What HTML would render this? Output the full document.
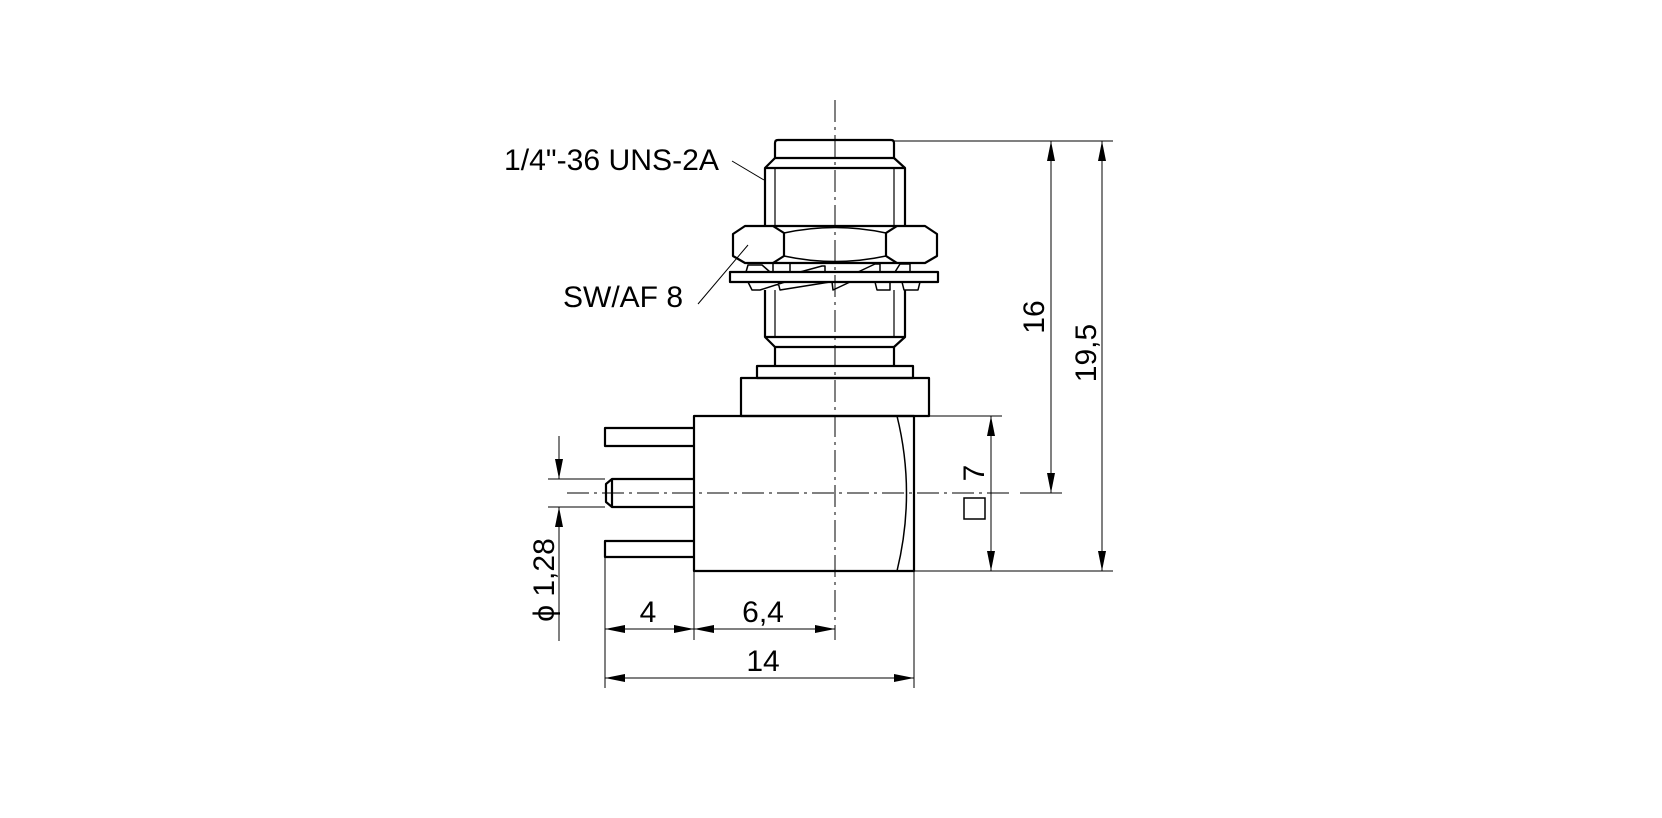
<!DOCTYPE html>
<html><head><meta charset="utf-8"><style>
html,body{margin:0;padding:0;background:#fff;}
svg{display:block;}
text{font-family:"Liberation Sans",Arial,sans-serif;fill:#000;}
</style></head><body>
<svg width="1662" height="818" viewBox="0 0 1662 818" xmlns="http://www.w3.org/2000/svg">
<defs>
<marker id="a" markerWidth="20" markerHeight="8" refX="20" refY="4" orient="auto" markerUnits="userSpaceOnUse"><path d="M0,0 L20,4 L0,8 z" fill="#000"/></marker>
</defs>
<g fill="none" stroke="#000" stroke-width="2.2" stroke-linejoin="round">
<path d="M775,158 L775,143 Q775,140 778,140 L891,140 Q894,140 894,143 L894,158"/>
<line x1="775" y1="158" x2="894" y2="158"/>
<path d="M775,158 L765,168 L765,226 M894,158 L905,168 L905,226"/>
<line x1="765" y1="168" x2="905" y2="168"/>
<line x1="775" y1="168" x2="775" y2="226" stroke-width="1.2"/>
<line x1="894" y1="168" x2="894" y2="226" stroke-width="1.2"/>
<path d="M745,226 L925,226 L937,234 L937,256 L925,263 L745,263 L733,256 L733,234 Z"/>
<path d="M773,226 L784,233 L784,256 L773,263 M897,226 L886,233 L886,256 L897,263"/>
<path d="M784,233 Q835,222 886,233 M784,256 Q835,267 886,256" stroke-width="1.5"/>
<rect x="730" y="272" width="208" height="10"/>
<g stroke-width="1.5">
<path d="M746,272 L748,265 L762,265 L770,272 M773,272 L773,263 L790,263 L790,272 M800,272 L822,266 L825,266 L825,272 M858,272 L875,264 L880,264 L880,272 M895,272 L900,264 L910,264 L910,272"/>
<path d="M748,282 L752,290 L760,290 L785,282 M778,282 L780,290 L830,282 M832,282 L833,290 L850,282 M875,282 L877,290 L890,290 L890,282 M902,282 L904,290 L918,290 L920,282"/>
</g>
<path d="M765,290 L765,337 L775,347 L894,347 L905,337 L905,290"/>
<line x1="765" y1="337" x2="905" y2="337"/>
<line x1="775" y1="290" x2="775" y2="337" stroke-width="1.2"/>
<line x1="894" y1="290" x2="894" y2="337" stroke-width="1.2"/>
<path d="M775,347 L775,366 M894,347 L894,366"/>
<rect x="757" y="366" width="156" height="12"/>
<rect x="741" y="378" width="188" height="38"/>
<rect x="694" y="416" width="220" height="155"/>
<path d="M897,416 Q916,493 897,571" stroke-width="1.5"/>
<path d="M694,428 L605,428 L605,446 L694,446"/>
<path d="M694,479 L612,479 L606,484 L606,502 L612,507 L694,507 M612,479 L612,507"/>
<path d="M694,541 L605,541 L605,557 L694,557"/>
</g>
<g stroke="#000" stroke-width="1" stroke-dasharray="22,5,3,5" fill="none">
<line x1="835" y1="100" x2="835" y2="640"/>
<line x1="567" y1="493" x2="1010" y2="493"/>
</g>
<g stroke="#000" stroke-width="1" fill="none">
<line x1="894" y1="141" x2="1113" y2="141"/>
<line x1="914" y1="571" x2="1113" y2="571"/>
<line x1="914" y1="416" x2="1002" y2="416"/>
<line x1="1020" y1="493" x2="1062" y2="493"/>
<line x1="548" y1="479" x2="605" y2="479"/>
<line x1="548" y1="507" x2="605" y2="507"/>
<line x1="605" y1="557" x2="605" y2="688"/>
<line x1="694" y1="571" x2="694" y2="640"/>
<line x1="914" y1="571" x2="914" y2="688"/>
<line x1="732" y1="161" x2="764" y2="180"/>
<line x1="698" y1="304" x2="748" y2="245"/>
<line x1="1051" y1="317" x2="1051" y2="141" marker-end="url(#a)"/>
<line x1="1051" y1="317" x2="1051" y2="493" marker-end="url(#a)"/>
<line x1="1102" y1="356" x2="1102" y2="141" marker-end="url(#a)"/>
<line x1="1102" y1="356" x2="1102" y2="571" marker-end="url(#a)"/>
<line x1="991" y1="493" x2="991" y2="416" marker-end="url(#a)"/>
<line x1="991" y1="493" x2="991" y2="571" marker-end="url(#a)"/>
<line x1="559" y1="436" x2="559" y2="479" marker-end="url(#a)"/>
<line x1="559" y1="641" x2="559" y2="507" marker-end="url(#a)"/>
<line x1="650" y1="629" x2="605" y2="629" marker-end="url(#a)"/>
<line x1="650" y1="629" x2="694" y2="629" marker-end="url(#a)"/>
<line x1="765" y1="629" x2="694" y2="629" marker-end="url(#a)"/>
<line x1="765" y1="629" x2="835" y2="629" marker-end="url(#a)"/>
<line x1="760" y1="678" x2="605" y2="678" marker-end="url(#a)"/>
<line x1="760" y1="678" x2="914" y2="678" marker-end="url(#a)"/>
</g>
<text x="504" y="170" font-size="30" textLength="215" lengthAdjust="spacingAndGlyphs">1/4"-36 UNS-2A</text>
<text x="563" y="307" font-size="30">SW/AF 8</text>
<text x="648" y="622" font-size="30" text-anchor="middle">4</text>
<text x="763" y="622" font-size="30" text-anchor="middle">6,4</text>
<text x="763" y="671" font-size="30" text-anchor="middle">14</text>
<text transform="translate(1044,317) rotate(-90)" font-size="30" text-anchor="middle">16</text>
<text transform="translate(1096,353) rotate(-90)" font-size="30" text-anchor="middle">19,5</text>
<text transform="translate(984,473) rotate(-90)" font-size="30" text-anchor="middle">7</text>
<rect x="964" y="498" width="21" height="21" fill="none" stroke="#000" stroke-width="1.5"/>
<text transform="translate(554,580) rotate(-90)" font-size="30" text-anchor="middle">ϕ 1,28</text>
</svg>
</body></html>
